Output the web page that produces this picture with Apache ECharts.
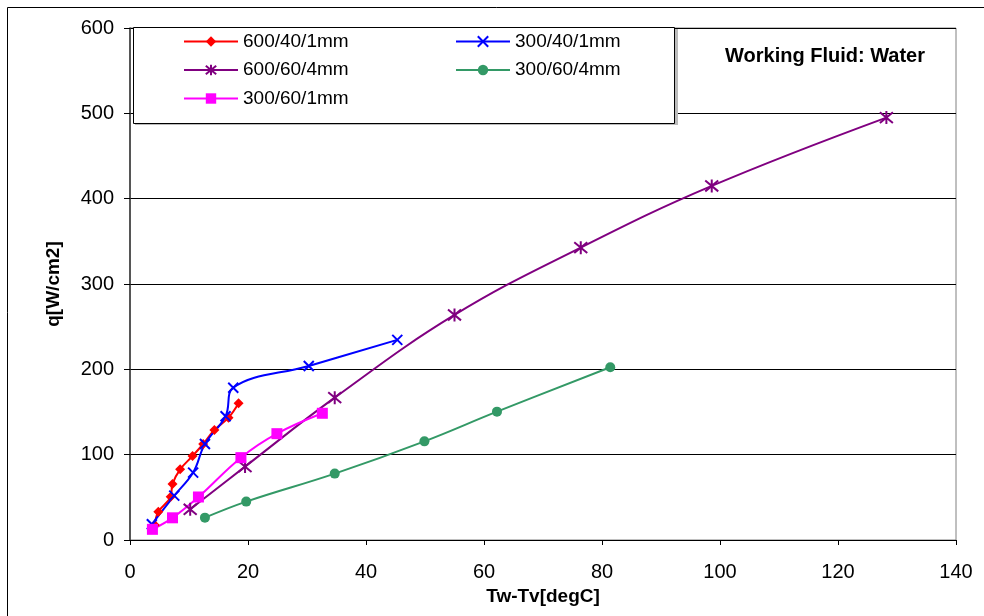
<!DOCTYPE html>
<html>
<head>
<meta charset="utf-8">
<script src="https://cdn.jsdelivr.net/npm/echarts@6/dist/echarts.min.js"></script>
<style>html,body{margin:0;padding:0;background:#fff;}#c{width:984px;height:616px;}</style>
</head>
<body>
<div id="c"></div>
<script>
const seriesNames = ['600/40/1mm','300/40/1mm','600/60/4mm','300/60/4mm','300/60/1mm'];
const x_600_40_1 = [4.2, 4.8, 6.9, 7.2, 8.5, 10.6, 12.4, 14.3, 16.7, 18.4];
const y_600_40_1 = [17.6, 33, 50.8, 65.6, 82.8, 98.4, 112.5, 128.9, 143.4, 160.2];
const x_300_40_1 = [3.7, 7.5, 10.7, 12.7, 16.2, 17.5, 30.3, 45.3];
const y_300_40_1 = [18.4, 52, 79, 112.5, 145, 178.5, 204, 234.5];
const x_600_60_4 = [10.2, 19.5, 34.7, 55.0, 76.4, 98.6, 128.2];
const y_600_60_4 = [36, 86, 166.8, 263.7, 342.6, 414.9, 495];
const x_300_60_4 = [12.7, 19.7, 34.7, 49.9, 62.2, 81.4];
const y_300_60_4 = [26.2, 45, 77.8, 115.6, 150.4, 202.4];
const x_300_60_1 = [3.8, 7.2, 11.6, 18.8, 24.9, 32.6];
const y_300_60_1 = [12.5, 26, 50.4, 96.5, 124.6, 148.5];
const xTicks = [0, 20, 40, 60, 80, 100, 120, 140];
const yTicks = [0, 100, 200, 300, 400, 500, 600];

const pairs = (xs, ys) => xs.map((x, i) => [x, ys[i]]);
const FONT = '"Liberation Sans", Arial, sans-serif';
const symX = 'path://M0,0L10,10M0,10L10,0';
const symStar = 'path://M0,0L10,10M0,10L10,0M5,-1L5,11';

function mk(name, data, color, symbol, size, stroked) {
  return {
    name, type: 'line', data, smooth: 0.4, symbol, symbolSize: size,
    showAllSymbol: true,
    lineStyle: { color, width: 2 },
    itemStyle: stroked ? { color: 'rgba(0,0,0,0)', borderColor: color, borderWidth: 2 } : { color, borderWidth: 0 },
    emphasis: { disabled: true },
    z: 3
  };
}

const legendText = { fontFamily: FONT, fontSize: 19, color: '#000' };
const chart = echarts.init(document.getElementById('c'), null, { renderer: 'canvas' });
chart.setOption({
  animation: false,
  backgroundColor: '#fff',
  textStyle: { fontFamily: FONT },
  grid: { left: 130, right: 28, top: 28, bottom: 76, show: true, borderColor: '#808080', borderWidth: 1 },
  xAxis: {
    type: 'value', min: xTicks[0], max: xTicks[xTicks.length - 1], interval: 20,
    name: 'Tw-Tv[degC]', nameLocation: 'middle', nameGap: 46,
    nameTextStyle: { fontFamily: FONT, fontSize: 19, fontWeight: 'bold', color: '#000' },
    axisLine: { lineStyle: { color: '#000', width: 1 } },
    axisTick: { show: true, inside: false, length: 5, lineStyle: { color: '#000' } },
    axisLabel: { fontFamily: FONT, fontSize: 20, color: '#000', margin: 22 },
    splitLine: { show: false }
  },
  yAxis: {
    type: 'value', min: yTicks[0], max: yTicks[yTicks.length - 1], interval: 100,
    name: 'q[W/cm2]', nameLocation: 'middle', nameGap: 67,
    nameTextStyle: { fontFamily: FONT, fontSize: 19, fontWeight: 'bold', color: '#000' },
    axisLine: { show: true, lineStyle: { color: '#333', width: 1.5 } },
    axisTick: { show: true, inside: false, length: 6, lineStyle: { color: '#000' } },
    axisLabel: { fontFamily: FONT, fontSize: 20, color: '#000', margin: 16 },
    splitLine: { show: true, lineStyle: { color: '#000', width: 1 } }
  },
  title: {
    text: 'Working Fluid: Water', left: 725, top: 46, padding: 0,
    textStyle: { fontFamily: FONT, fontSize: 20, fontWeight: 'bold', color: '#000' }
  },
  legend: [
    { data: [seriesNames[0], seriesNames[2], seriesNames[4]], orient: 'vertical', left: 183, top: 32, padding: 0,
      itemWidth: 54, itemHeight: 13, itemGap: 9.5, z: 20, textStyle: legendText, selectedMode: false },
    { data: [seriesNames[1], seriesNames[3]], orient: 'vertical', left: 455, top: 32, padding: 0,
      itemWidth: 54, itemHeight: 13, itemGap: 9.5, z: 20, textStyle: legendText, selectedMode: false }
  ],
  graphic: [
    { type: 'rect', z: -10, silent: true,
      shape: { x: 7.5, y: 7.5, width: 1000, height: 700 },
      style: { fill: 'none', stroke: '#000', lineWidth: 1 } },
    { type: 'rect', z: 9, silent: true,
      shape: { x: 135, y: 29, width: 543, height: 96 },
      style: { fill: '#bbb' } },
    { type: 'rect', z: 10, silent: true,
      shape: { x: 133.5, y: 27.5, width: 541, height: 96 },
      style: { fill: '#fff', stroke: '#000', lineWidth: 1 } }
  ],
  series: [
    mk(seriesNames[0], pairs(x_600_40_1, y_600_40_1), '#FF0000', 'diamond', 10, false),
    mk(seriesNames[1], pairs(x_300_40_1, y_300_40_1), '#0000FF', symX, 10, true),
    mk(seriesNames[2], pairs(x_600_60_4, y_600_60_4), '#800080', symStar, 13, true),
    mk(seriesNames[3], pairs(x_300_60_4, y_300_60_4), '#339966', 'circle', 10, false),
    mk(seriesNames[4], pairs(x_300_60_1, y_300_60_1), '#FF00FF', 'rect', 11, false)
  ]
});
</script>
</body>
</html>
